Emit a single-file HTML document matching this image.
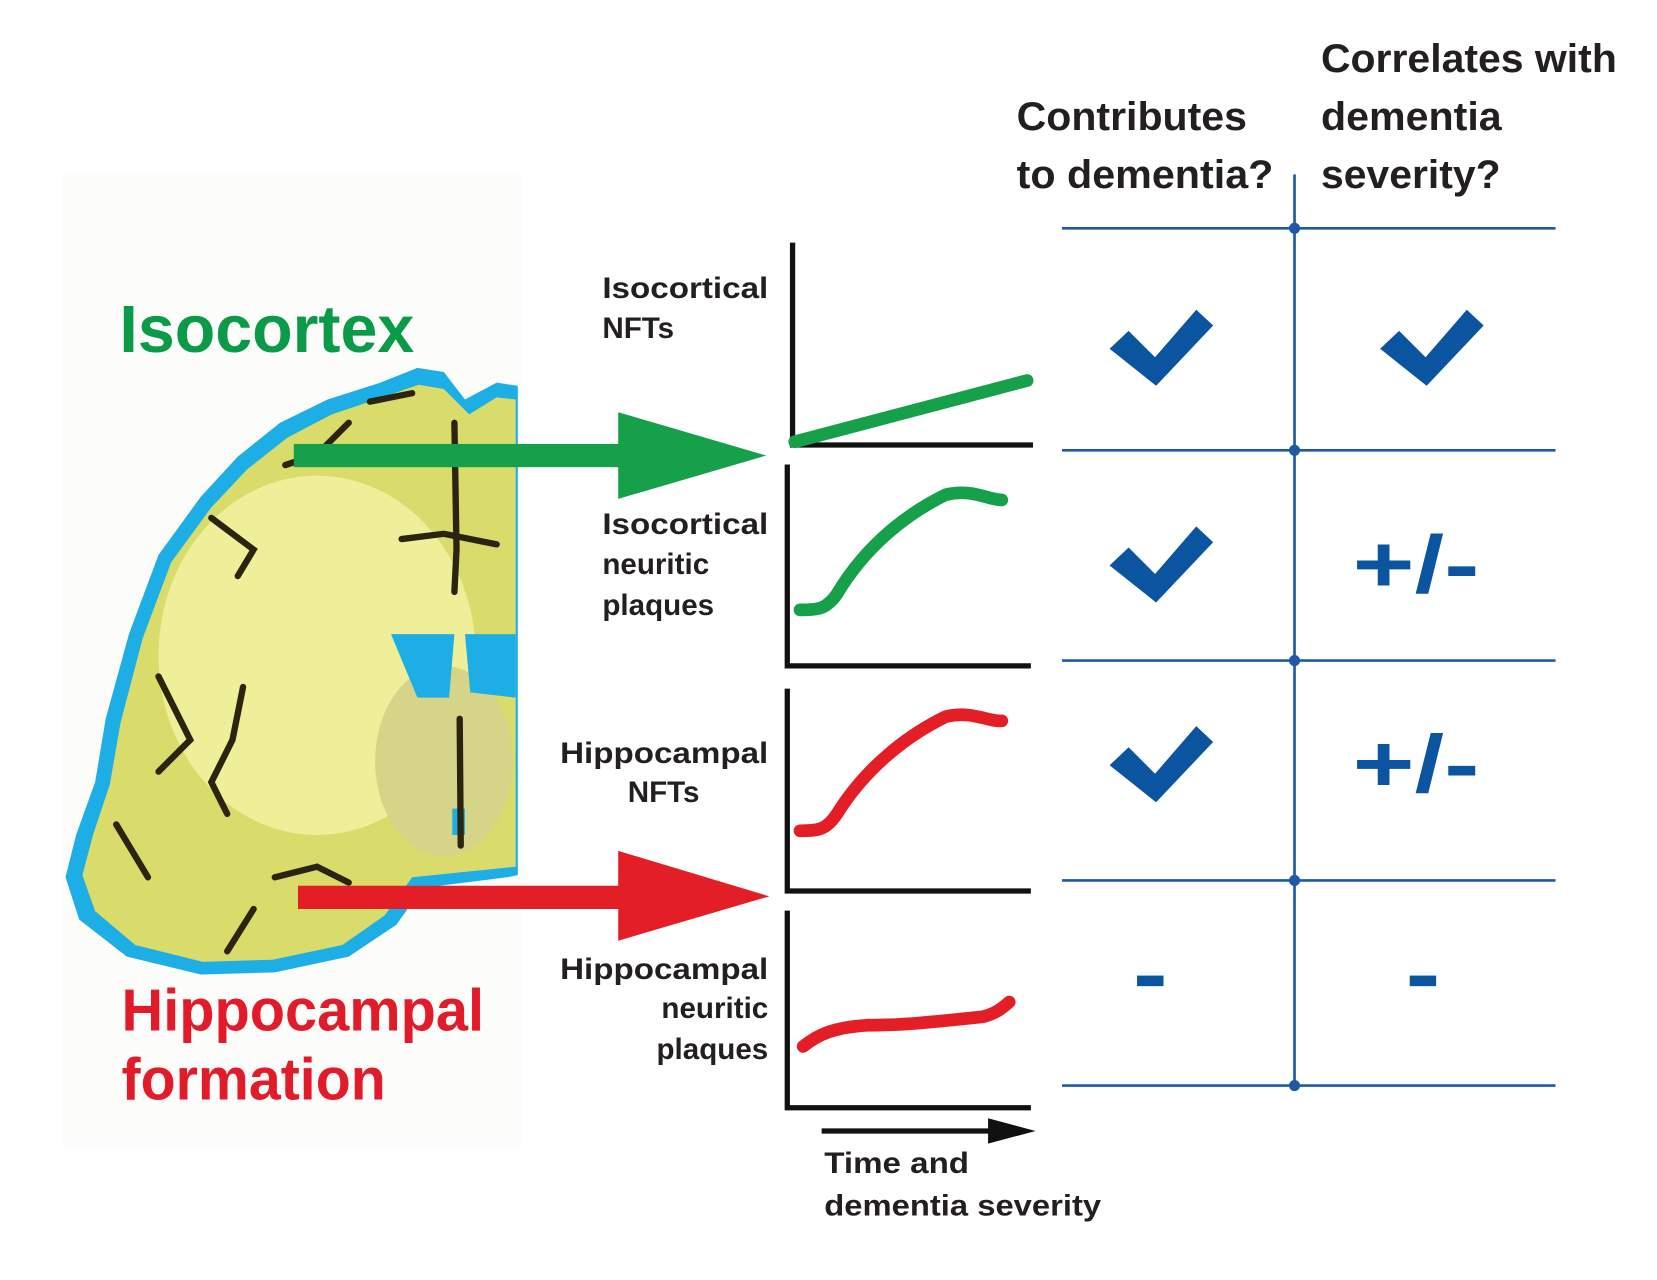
<!DOCTYPE html>
<html><head><meta charset="utf-8"><style>
html,body{margin:0;padding:0;background:#fff;}
svg{display:block;}
text{font-family:"Liberation Sans",Arial,sans-serif;font-weight:bold;}
</style></head><body>
<svg width="1657" height="1280" viewBox="0 0 1568 1211" preserveAspectRatio="none" xmlns="http://www.w3.org/2000/svg">
<rect x="0" y="0" width="1568" height="1211" fill="#fff"/>
<rect x="58" y="165" width="435" height="920" fill="#fcfcfa"/>
<!-- headers -->
<g fill="#231f20" font-size="38">
<text x="962" y="123" textLength="218" lengthAdjust="spacingAndGlyphs">Contributes</text>
<text x="962" y="178" textLength="243" lengthAdjust="spacingAndGlyphs">to dementia?</text>
<text x="1250" y="68" textLength="280" lengthAdjust="spacingAndGlyphs">Correlates with</text>
<text x="1250" y="123" textLength="171" lengthAdjust="spacingAndGlyphs">dementia</text>
<text x="1250" y="178" textLength="170" lengthAdjust="spacingAndGlyphs">severity?</text>
</g>
<!-- grid -->
<g stroke="#1d5aa6" stroke-width="2.5" fill="#1d5aa6">
<line x1="1225" y1="165" x2="1225" y2="1027"/>
<line x1="1005" y1="216" x2="1472" y2="216"/>
<line x1="1005" y1="426" x2="1472" y2="426"/>
<line x1="1005" y1="625" x2="1472" y2="625"/>
<line x1="1005" y1="833" x2="1472" y2="833"/>
<line x1="1005" y1="1027" x2="1472" y2="1027"/>
<circle cx="1225" cy="216" r="4"/><circle cx="1225" cy="426" r="4"/><circle cx="1225" cy="625" r="4"/><circle cx="1225" cy="833" r="4"/><circle cx="1225" cy="1027" r="4"/>
</g>
<!-- checks -->
<g fill="#0a54a0">
<path d="M1050,330 L1068,313 L1093,338 L1132,293 L1148,308 L1094,365 Z"/>
<path d="M1050,330 L1068,313 L1093,338 L1132,293 L1148,308 L1094,365 Z" transform="translate(256,0)"/>
<path d="M1050,330 L1068,313 L1093,338 L1132,293 L1148,308 L1094,365 Z" transform="translate(0,205)"/>
<path d="M1050,330 L1068,313 L1093,338 L1132,293 L1148,308 L1094,365 Z" transform="translate(0,394)"/>
</g>
<g fill="#0a54a0" font-size="76">
<text x="1280" y="560" textLength="120" lengthAdjust="spacingAndGlyphs">+/-</text>
<text x="1280" y="749" textLength="120" lengthAdjust="spacingAndGlyphs">+/-</text>
</g>
<rect x="1076" y="923" width="25" height="10" fill="#0a54a0"/>
<rect x="1334" y="923" width="25" height="10" fill="#0a54a0"/>
<!-- chart labels -->
<g fill="#231f20" font-size="28">
<text x="570" y="282" textLength="157" lengthAdjust="spacingAndGlyphs">Isocortical</text>
<text x="570" y="320">NFTs</text>
<text x="570" y="505" textLength="157" lengthAdjust="spacingAndGlyphs">Isocortical</text>
<text x="570" y="543">neuritic</text>
<text x="570" y="582">plaques</text>
<text x="530" y="722" textLength="197" lengthAdjust="spacingAndGlyphs">Hippocampal</text>
<text x="628" y="759" text-anchor="middle">NFTs</text>
<text x="530" y="926" textLength="197" lengthAdjust="spacingAndGlyphs">Hippocampal</text>
<text x="727" y="963" text-anchor="end">neuritic</text>
<text x="727" y="1002" text-anchor="end">plaques</text>
<text x="780" y="1110" textLength="137" lengthAdjust="spacingAndGlyphs">Time and</text>
<text x="780" y="1150" textLength="262" lengthAdjust="spacingAndGlyphs">dementia severity</text>
</g>
<!-- axes -->
<g stroke="#111" stroke-width="5" fill="none" stroke-linecap="square">
<polyline points="750,232 750,421 975,421"/>
<polyline points="745,442 745,630 973,630"/>
<polyline points="745,654 745,843 973,843"/>
<polyline points="745,864 745,1048 973,1048"/>
<line x1="780" y1="1070" x2="945" y2="1070"/>
</g>
<polygon points="935,1058 980,1070 935,1082" fill="#111"/>
<!-- curves -->
<g fill="none" stroke-width="12" stroke-linecap="round">
<path d="M752,418 L972,360" stroke="#16a04a"/>
<path d="M757,577 C775,577 782,576 792,562 C820,515 860,485 895,468 C920,462 935,473 948,473" stroke="#16a04a"/>
<path d="M757,786 C775,786 782,785 792,770 C820,725 860,695 895,678 C920,672 935,683 948,682" stroke="#e41e26"/>
<path d="M760,990 C775,978 790,972 820,970 C860,970 900,965 930,962 C945,958 950,952 955,948" stroke="#e41e26"/>
</g>
<!-- brain -->
<path d="M490,365 L470,362 L440,378 L420,352 L395,348 L360,362 L310,378 L265,400 L225,432 L190,470 L150,525 L122,600 L100,680 L90,740 L72,790 L62,830 L75,870 L120,905 L190,922 L260,920 L330,905 L375,875 L400,840 L480,830 L490,828 Z" fill="#1eaee6"/>
<path d="M488,378 L470,376 L444,392 L420,368 L396,364 L362,376 L314,392 L272,414 L234,444 L200,480 L162,532 L135,604 L114,684 L104,742 L88,790 L78,828 L90,862 L128,894 L192,910 L258,908 L324,894 L364,866 L390,830 L488,820 Z" fill="#d9dc6a"/>
<ellipse cx="300" cy="620" rx="150" ry="170" fill="#eeef98"/>
<ellipse cx="420" cy="720" rx="65" ry="90" fill="#d6d489"/>
<path d="M370,600 L430,600 L425,660 L395,660 Z M440,600 L488,600 L488,660 L445,655 Z M428,765 L440,765 L440,790 L428,790 Z" fill="#1eaee6"/>
<g stroke="#2a2410" stroke-width="6" fill="none" stroke-linecap="round">
<path d="M200,490 L240,520 L225,545"/>
<path d="M330,400 L300,430 L270,440"/>
<path d="M430,400 L432,520 L430,560"/>
<path d="M380,510 L420,505 L470,515"/>
<path d="M230,650 L220,700 L200,740 L215,770"/>
<path d="M150,640 L180,700 L150,730"/>
<path d="M110,780 L140,830"/>
<path d="M435,680 L436,800"/>
<path d="M260,830 L300,820 L330,835"/>
<path d="M240,860 L215,900"/>
<path d="M350,380 L390,372"/>
</g>
<!-- arrows -->
<rect x="278" y="420" width="320" height="22" fill="#16a04a"/>
<polygon points="585,390 725,431 585,472" fill="#16a04a"/>
<rect x="282" y="838" width="316" height="22" fill="#e41e26"/>
<polygon points="585,805 728,848 585,890" fill="#e41e26"/>
<!-- big labels -->
<text x="113" y="333" font-size="63" fill="#0a9a48" textLength="279" lengthAdjust="spacingAndGlyphs">Isocortex</text>
<text x="115" y="975" font-size="56" fill="#e21b2a" textLength="343" lengthAdjust="spacingAndGlyphs">Hippocampal</text>
<text x="115" y="1040" font-size="56" fill="#e21b2a" textLength="250" lengthAdjust="spacingAndGlyphs">formation</text>
</svg>
</body></html>
